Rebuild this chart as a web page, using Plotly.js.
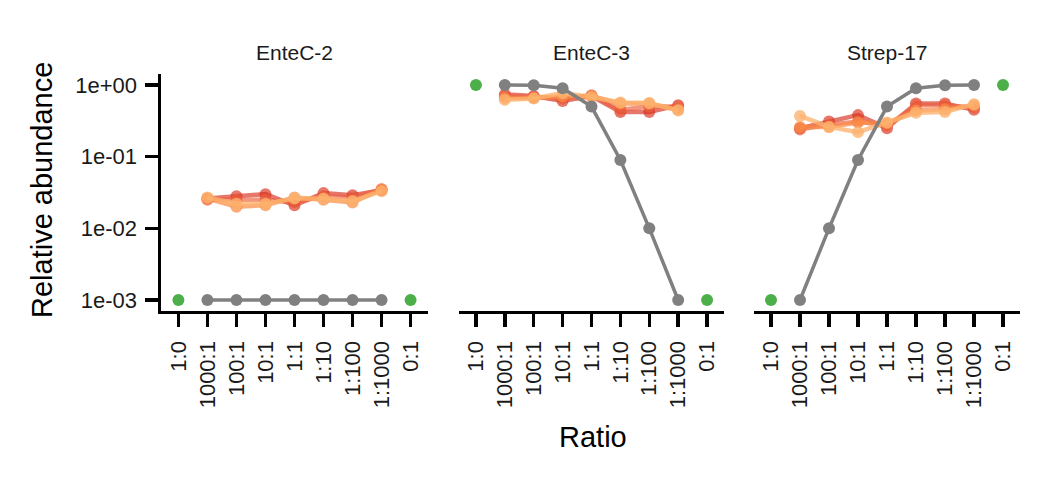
<!DOCTYPE html>
<html>
<head>
<meta charset="utf-8">
<script src="https://cdn.plot.ly/plotly-3.0.1.min.js"></script>
<style>html,body{margin:0;padding:0;background:#fff;}#chart{width:1050px;height:480px;}</style>
</head>
<body>
<div id="chart"></div>
<script>
// ---- data ----
const ratios = ["1:0","1000:1","100:1","10:1","1:1","1:10","1:100","1:1000","0:1"];
const mixRatios = ["1000:1","100:1","10:1","1:1","1:10","1:100","1:1000"];
const panels = ["EnteC-2","EnteC-3","Strep-17"];

// replicate measurements (relative abundance) per panel, over mixRatios
const entec2_rep1 = [0.026, 0.028, 0.030, 0.021, 0.031, 0.029, 0.034];
const entec2_rep2 = [0.025, 0.025, 0.025, 0.023, 0.028, 0.027, 0.035];
const entec2_rep3 = [0.026, 0.020, 0.021, 0.027, 0.025, 0.023, 0.035];
const entec2_rep4 = [0.027, 0.022, 0.022, 0.026, 0.026, 0.024, 0.033];

const entec3_rep1 = [0.74, 0.70, 0.60, 0.70, 0.42, 0.42, 0.52];
const entec3_rep2 = [0.70, 0.68, 0.65, 0.72, 0.45, 0.50, 0.50];
const entec3_rep3 = [0.66, 0.66, 0.69, 0.70, 0.55, 0.55, 0.45];
const entec3_rep4 = [0.62, 0.65, 0.77, 0.68, 0.57, 0.56, 0.44];

const strep17_rep1 = [0.25, 0.31, 0.38, 0.25, 0.55, 0.55, 0.45];
const strep17_rep2 = [0.24, 0.28, 0.31, 0.27, 0.52, 0.52, 0.48];
const strep17_rep3 = [0.26, 0.26, 0.30, 0.29, 0.44, 0.46, 0.52];
const strep17_rep4 = [0.37, 0.26, 0.22, 0.30, 0.41, 0.42, 0.54];

// expected (input) abundance
const entec2_expected = [0.001, 0.001, 0.001, 0.001, 0.001, 0.001, 0.001];
const entec3_expected = [1.0, 0.99, 0.9, 0.5, 0.09, 0.01, 0.001];
const strep17_expected = [0.001, 0.01, 0.09, 0.5, 0.9, 0.99, 1.0];

// monocultures at 1:0 and 0:1
const monoRatios = ["1:0","0:1"];
const entec2_mono = [0.001, 0.001];
const entec3_mono = [1.0, 0.001];
const strep17_mono = [0.001, 1.0];

const yTickVals = [1, 0.1, 0.01, 0.001];
const yTickText = ["1e+00","1e-01","1e-02","1e-03"];

// ---- styling ----
const repColors = ["rgba(215,48,31,0.66)","rgba(236,96,62,0.66)","rgba(250,140,70,0.72)","rgba(253,178,110,0.78)"];
const grey = "#808080";
const green = "#4DAF4A";
const FONT = "Liberation Sans, Arial, Helvetica, sans-serif";

const panelData = [
  {reps:[entec2_rep1,entec2_rep2,entec2_rep3,entec2_rep4], exp:entec2_expected, mono:entec2_mono},
  {reps:[entec3_rep1,entec3_rep2,entec3_rep3,entec3_rep4], exp:entec3_expected, mono:entec3_mono},
  {reps:[strep17_rep1,strep17_rep2,strep17_rep3,strep17_rep4], exp:strep17_expected, mono:strep17_mono}
];

const traces = [];
panelData.forEach((p, i) => {
  const xa = i === 0 ? "x" : "x" + (i + 1);
  const ya = i === 0 ? "y" : "y" + (i + 1);
  p.reps.forEach((r, k) => {
    traces.push({x: mixRatios, y: r, xaxis: xa, yaxis: ya, type: "scatter", mode: "lines+markers",
      line: {color: repColors[k], width: 4.5}, marker: {color: repColors[k], size: 12}, showlegend: false, hoverinfo: "skip"});
  });
  traces.push({x: mixRatios, y: p.exp, xaxis: xa, yaxis: ya, type: "scatter", mode: "lines+markers",
    line: {color: grey, width: 3.5}, marker: {color: grey, size: 12}, showlegend: false, hoverinfo: "skip"});
  traces.push({x: monoRatios, y: p.mono, xaxis: xa, yaxis: ya, type: "scatter", mode: "markers",
    marker: {color: green, size: 12}, showlegend: false, hoverinfo: "skip"});
});

const domains = [[161/1050, 428/1050],[458.6/1050, 724.4/1050],[753.6/1050, 1020.4/1050]];
const yDomain = [1 - 310.75/480, 1 - 74.25/480];

function xaxis(i) {
  return {domain: domains[i], anchor: i === 0 ? "y" : "y" + (i + 1), type: "category",
    categoryorder: "array", categoryarray: ratios, range: [-0.6, 8.6],
    showline: true, linecolor: "#000", linewidth: 3.5, ticks: "outside", ticklen: 13, tickwidth: 3.5, tickcolor: "#000",
    tickangle: -90, ticklabelstandoff: 5, tickfont: {family: FONT, size: 22, color: "#1a1a1a"},
    showgrid: false, zeroline: false, fixedrange: true};
}
function yaxis(i) {
  const base = {domain: yDomain, anchor: i === 0 ? "x" : "x" + (i + 1), type: "log", range: [-3.15, 0.15],
    showgrid: false, zeroline: false, tickvals: yTickVals, ticktext: yTickText, fixedrange: true};
  if (i === 0) {
    return Object.assign(base, {showline: true, linecolor: "#000", linewidth: 3.5, ticks: "outside", ticklen: 13,
      tickwidth: 3.5, tickcolor: "#000", tickfont: {family: FONT, size: 22, color: "#1a1a1a"}, ticklabelstandoff: 3});
  }
  return Object.assign(base, {showline: false, ticks: "", showticklabels: false});
}

const annotations = panels.map((t, i) => ({text: t, xref: "paper", yref: "paper",
  x: (domains[i][0] + domains[i][1]) / 2, y: 1 - 52/480, xanchor: "center", yanchor: "middle", showarrow: false,
  font: {family: FONT, size: 21, color: "#1a1a1a"}}));
annotations.push({text: "Relative abundance", xref: "paper", yref: "paper", x: 42/1050, y: 1 - 190/480,
  xanchor: "center", yanchor: "middle", textangle: -90, showarrow: false, font: {family: FONT, size: 29, color: "#000"}});
annotations.push({text: "Ratio", xref: "paper", yref: "paper", x: 593/1050, y: 1 - 437/480,
  xanchor: "center", yanchor: "middle", showarrow: false, font: {family: FONT, size: 29, color: "#000"}});

const layout = {width: 1050, height: 480, margin: {l: 0, r: 0, t: 0, b: 0}, paper_bgcolor: "#fff", plot_bgcolor: "#fff",
  showlegend: false, font: {family: FONT},
  xaxis: xaxis(0), xaxis2: xaxis(1), xaxis3: xaxis(2), yaxis: yaxis(0), yaxis2: yaxis(1), yaxis3: yaxis(2),
  annotations: annotations};

Plotly.newPlot("chart", traces, layout, {staticPlot: true, displayModeBar: false});
</script>
</body>
</html>
